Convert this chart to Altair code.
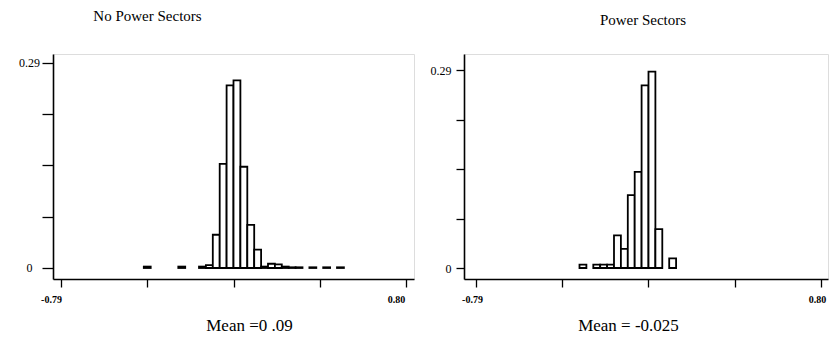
import altair as alt
import pandas as pd

# ---- data ----
BIN_START = -0.79
BIN_WIDTH = 0.0318

left_bins = [12, 17, 20, 21, 22, 23, 24, 25, 26, 27, 28, 29, 30, 31, 32, 33, 34, 36, 38, 40]
left_freq = [0.002, 0.002, 0.002, 0.004, 0.047, 0.147, 0.258, 0.265, 0.143, 0.061,
             0.026, 0.002, 0.006, 0.005, 0.002, 0.001, 0.001, 0.001, 0.001, 0.001]

right_bins = [15, 17, 18, 19, 20, 21, 22, 23, 24, 25, 26, 28]
right_freq = [0.005, 0.005, 0.005, 0.005, 0.048, 0.028, 0.107, 0.141, 0.268, 0.288, 0.057, 0.014]

x_ticks = [-0.79, -0.3925, 0.005, 0.4025, 0.80]
y_ticks = [0, 0.0725, 0.145, 0.2175, 0.29]

titles = ["No Power Sectors", "Power Sectors"]
means = ["Mean =0 .09", "Mean = -0.025"]

SERIF = "Liberation Serif"


def frame(bins, freq):
    return pd.DataFrame({
        "x0": [BIN_START + k * BIN_WIDTH for k in bins],
        "x1": [BIN_START + (k + 1) * BIN_WIDTH for k in bins],
        "f": freq,
        "base": [0.0] * len(bins),
    })


def panel(df, title, title_dx, title_dy, mean_text, mean_x, xdom, ydom, width, height,
          ytick, ypad, yalign, xlab_off):
    return alt.Chart(df).mark_rect(
        fill="white", stroke="black", strokeWidth=1.8
    ).encode(
        x=alt.X("x0:Q",
                scale=alt.Scale(domain=xdom, nice=False, zero=False),
                axis=alt.Axis(values=x_ticks,
                              labelExpr="datum.value < -0.7 ? '-0.79' : (datum.value > 0.7 ? '0.80' : '')",
                              title=mean_text, titleFont=SERIF, titleFontSize=17,
                              titleFontWeight="normal", titleColor="black",
                              titleBaseline="alphabetic", titleY=51, titleX=mean_x,
                              titleAlign="center",
                              labelFont=SERIF, labelFontSize=10, labelFontWeight="bold",
                              labelColor="black", labelPadding=7, labelFlush=False,
                              labelOffset=xlab_off,
                              tickSize=8, tickColor="black", tickWidth=1.3,
                              domainColor="black", domainWidth=1.6, grid=False)),
        x2="x1:Q",
        y=alt.Y("f:Q",
                scale=alt.Scale(domain=ydom, nice=False, zero=False),
                axis=alt.Axis(values=y_ticks,
                              labelExpr="datum.value == 0 ? '0' : (datum.value > 0.28 ? '0.29' : '')",
                              title=None,
                              labelFont=SERIF, labelFontSize=12, labelColor="black",
                              labelAlign=yalign, labelBaseline="middle",
                              labelPadding=ypad, labelFlush=False,
                              tickSize=ytick, tickColor="black", tickWidth=1.3,
                              domainColor="black", domainWidth=1.6, grid=False)),
        y2="base:Q",
    ).properties(
        width=width, height=height,
        title=alt.TitleParams(title, font=SERIF, fontSize=15, fontWeight="normal",
                              color="black", anchor="middle", dx=title_dx, dy=title_dy,
                              offset=28),
    )


left = panel(frame(left_bins, left_freq), titles[0], -86, -2, means[0], 196,
             [-0.8269, 0.8369], [-0.01554, 0.30229], 361, 225, 11, 13, "center", -10)
right = panel(frame(right_bins, right_freq), titles[1], -3, 2, means[1], 164,
              [-0.8453, 0.8323], [-0.01612, 0.31389], 364, 225, 8, 5, "right", -4)

chart = alt.hconcat(left, right, spacing=14).properties(
    padding={"left": 10, "top": 0, "right": 0, "bottom": 0}
).configure_view(stroke=None).configure(background="white")

chart.save("out.html", embed_options={"renderer": "svg", "actions": False})
